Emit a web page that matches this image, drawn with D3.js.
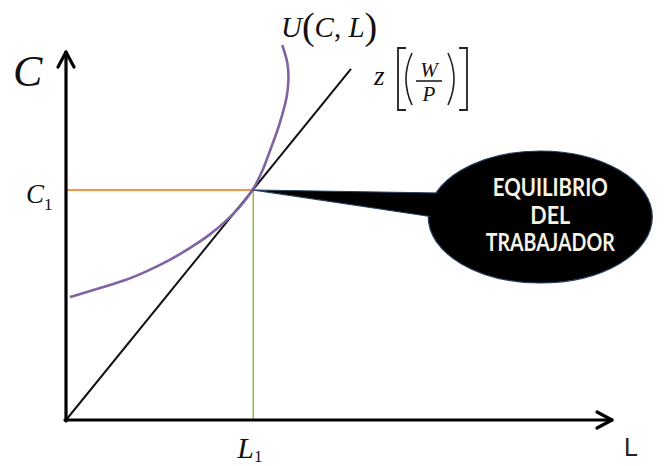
<!DOCTYPE html>
<html>
<head>
<meta charset="utf-8">
<script src="https://cdn.jsdelivr.net/npm/d3@7"></script>
<style>
  body { margin: 0; background: #fff; }
</style>
</head>
<body>
<div id="chart-area"></div>
<script>
// Equilibrio del trabajador: curva de indiferencia U(C,L) y recta z[(W/P)]

const WIDTH = 667
const HEIGHT = 466

// data (units)
const axisMax = { L: 10, C: 10 }
const equilibrium = { L: 3.43, C: 6.25 }
const budgetLine = [[0, 0], [5.22, 9.54]]
const utilityL = [0.07, 0.50, 1.12, 1.54, 1.91, 2.27, 2.64, 2.95, 3.19, 3.43, 3.61, 3.74, 3.88, 3.97, 4.05, 4.08, 4.07, 3.96]
const utilityC = [3.34, 3.53, 3.80, 4.08, 4.35, 4.67, 5.03, 5.43, 5.79, 6.25, 6.79, 7.34, 7.88, 8.34, 8.78, 9.24, 9.70, 10.19]
const bubbleLines = ["EQUILIBRIO", "DEL", "TRABAJADOR"]

const svg = d3.select("#chart-area").append("svg")
  .attr("width", WIDTH)
  .attr("height", HEIGHT)

const x = d3.scaleLinear()
  .domain([0, axisMax.L])
  .range([66, 612])

const y = d3.scaleLinear()
  .domain([0, axisMax.C])
  .range([420, 52])

const serif = "'Liberation Serif', 'DejaVu Serif', serif"

// guide lines to the axes
svg.append("line")
  .attr("x1", x(0)).attr("x2", x(equilibrium.L))
  .attr("y1", y(equilibrium.C)).attr("y2", y(equilibrium.C))
  .attr("stroke", "#f79646")
  .attr("stroke-width", 2)

svg.append("line")
  .attr("x1", x(equilibrium.L)).attr("x2", x(equilibrium.L))
  .attr("y1", y(equilibrium.C)).attr("y2", y(0))
  .attr("stroke", "#9bbb59")
  .attr("stroke-width", 1.6)

// budget line
svg.append("path")
  .datum(budgetLine)
  .attr("d", d3.line().x(d => x(d[0])).y(d => y(d[1])))
  .attr("fill", "none")
  .attr("stroke", "#111")
  .attr("stroke-width", 2)

// indifference curve
const utility = utilityL.map((l, i) => ({ L: l, C: utilityC[i] }))
svg.append("path")
  .datum(utility)
  .attr("d", d3.line().x(d => x(d.L)).y(d => y(d.C)).curve(d3.curveBasis))
  .attr("fill", "none")
  .attr("stroke", "#8064a2")
  .attr("stroke-width", 2.6)

// axes with open arrowheads
const axes = svg.append("g")
  .attr("stroke", "#000")
  .attr("stroke-width", 3.2)
  .attr("fill", "none")
  .attr("stroke-linecap", "round")
  .attr("stroke-linejoin", "round")

axes.append("path")
  .attr("d", `M${x(0)},${y(0) + 1}V${y(axisMax.C)}`)
axes.append("path")
  .attr("d", `M${x(0) - 8},${y(axisMax.C) + 15}L${x(0)},${y(axisMax.C)}L${x(0) + 8},${y(axisMax.C) + 15}`)
axes.append("path")
  .attr("d", `M${x(0) - 1},${y(0)}H${x(axisMax.L)}`)
axes.append("path")
  .attr("d", `M${x(axisMax.L) - 15},${y(0) - 8}L${x(axisMax.L)},${y(0)}L${x(axisMax.L) - 15},${y(0) + 8}`)

// axis labels
svg.append("text")
  .attr("x", 13).attr("y", 86)
  .attr("font-family", serif)
  .attr("font-style", "italic")
  .attr("font-size", 44)
  .attr("fill", "#111")
  .text("C")

svg.append("text")
  .attr("x", 624).attr("y", 456)
  .attr("font-family", "'Liberation Sans', Arial, sans-serif")
  .attr("font-size", 25)
  .attr("fill", "#222")
  .text("L")

const c1 = svg.append("text")
  .attr("x", 26).attr("y", y(equilibrium.C) + 13)
  .attr("font-family", serif)
  .attr("font-size", 27)
  .attr("fill", "#111")
c1.append("tspan").attr("font-style", "italic").text("C")
c1.append("tspan").attr("font-size", 17).attr("dy", 7).text("1")

const l1 = svg.append("text")
  .attr("x", x(equilibrium.L) - 16).attr("y", 458)
  .attr("font-family", serif)
  .attr("font-size", 30)
  .attr("fill", "#111")
l1.append("tspan").attr("font-style", "italic").text("L")
l1.append("tspan").attr("font-size", 17).attr("dy", 4).text("1")

// U(C, L)
const uLabel = svg.append("text")
  .attr("x", 281).attr("y", 37)
  .attr("font-family", serif)
  .attr("font-size", 29)
  .attr("fill", "#111")
uLabel.append("tspan").attr("font-style", "italic").text("U")
uLabel.append("tspan").attr("font-size", 38).attr("dy", 2).text("(")
uLabel.append("tspan").attr("font-style", "italic").attr("dy", -2).text("C")
uLabel.append("tspan").text(", ")
uLabel.append("tspan").attr("font-style", "italic").text("L")
uLabel.append("tspan").attr("font-size", 38).attr("dy", 2).text(")")

// z[(W/P)]
const zg = svg.append("g")
  .attr("fill", "#111")
  .attr("font-family", serif)
zg.append("text")
  .attr("x", 374).attr("y", 85)
  .attr("font-style", "italic")
  .attr("font-size", 27)
  .text("z")
zg.append("path")
  .attr("d", "M406,48H398V110H406M459,48H467V110H459")
  .attr("fill", "none")
  .attr("stroke", "#222")
  .attr("stroke-width", 1.8)
zg.append("path")
  .attr("d", "M412,53Q400,79 412,105M448,53Q460,79 448,105")
  .attr("fill", "none")
  .attr("stroke", "#222")
  .attr("stroke-width", 1.6)
zg.append("text")
  .attr("x", 429).attr("y", 77)
  .attr("text-anchor", "middle")
  .attr("font-style", "italic")
  .attr("font-size", 21)
  .text("W")
zg.append("line")
  .attr("x1", 416).attr("x2", 442)
  .attr("y1", 81).attr("y2", 81)
  .attr("stroke", "#111")
  .attr("stroke-width", 1.5)
zg.append("text")
  .attr("x", 429).attr("y", 101)
  .attr("text-anchor", "middle")
  .attr("font-style", "italic")
  .attr("font-size", 21)
  .text("P")

// callout bubble
const ex = x(equilibrium.L)
const ey = y(equilibrium.C)
const bubble = { cx: ex + 287, cy: ey + 27, rx: 112, ry: 66 }

const callout = svg.append("g")
callout.append("ellipse")
  .attr("cx", bubble.cx).attr("cy", bubble.cy)
  .attr("rx", bubble.rx).attr("ry", bubble.ry)
  .attr("fill", "#000")
  .attr("stroke", "#243f60")
  .attr("stroke-width", 1.2)
callout.append("path")
  .attr("d", `M${ex},${ey}L${bubble.cx - 100},${ey + 3}L${bubble.cx - 100},${ey + 28}Z`)
  .attr("fill", "#000")
  .attr("stroke", "#243f60")
  .attr("stroke-width", 1.2)
  .attr("stroke-linejoin", "round")
callout.append("ellipse")
  .attr("cx", bubble.cx).attr("cy", bubble.cy)
  .attr("rx", bubble.rx - 2).attr("ry", bubble.ry - 2)
  .attr("fill", "#000")

const widths = [115, 40, 129]
callout.selectAll("text.bubble")
  .data(bubbleLines)
  .enter().append("text")
  .attr("class", "bubble")
  .attr("x", bubble.cx + 10)
  .attr("y", (d, i) => bubble.cy - 21 + i * 27.5)
  .attr("text-anchor", "middle")
  .attr("font-family", "Lato, 'Liberation Sans', sans-serif")
  .attr("font-weight", "bold")
  .attr("font-size", 24)
  .attr("textLength", (d, i) => widths[i])
  .attr("lengthAdjust", "spacingAndGlyphs")
  .attr("fill", "#f6f2e4")
  .text(d => d)
</script>
</body>
</html>
